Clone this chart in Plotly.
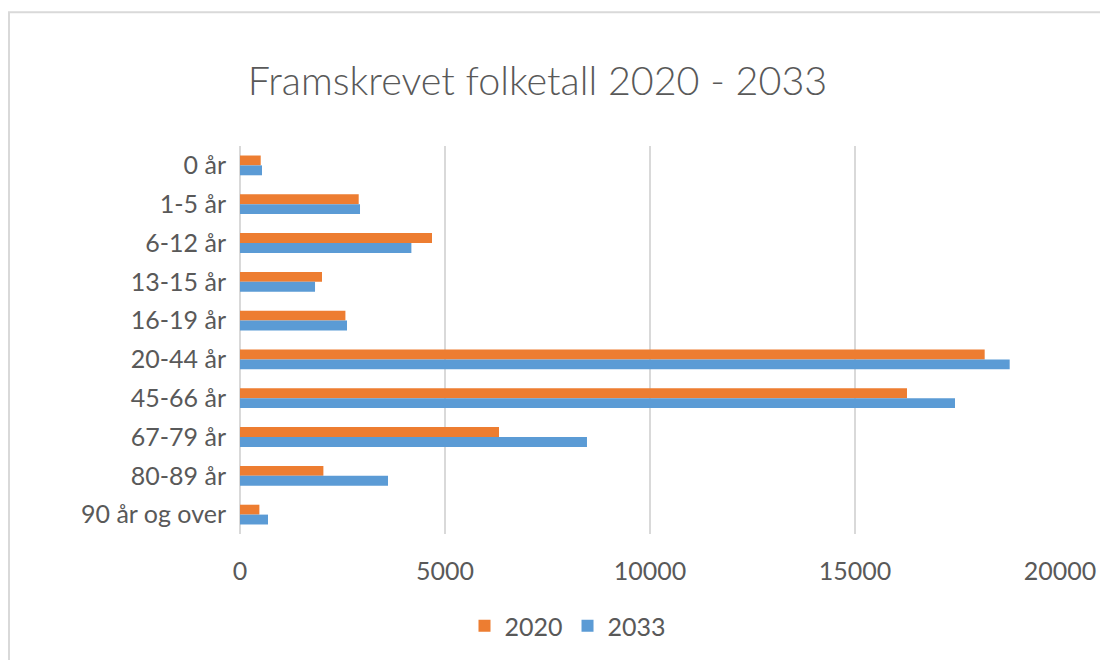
import plotly.graph_objects as go

categories = ["0 år", "1-5 år", "6-12 år", "13-15 år", "16-19 år", "20-44 år",
              "45-66 år", "67-79 år", "80-89 år", "90 år og over"]
values_2020 = [505, 2895, 4683, 2000, 2571, 18163, 16268, 6317, 2034, 473]
values_2033 = [537, 2927, 4180, 1830, 2610, 18773, 17439, 8463, 3610, 683]
tick_vals = [0, 5000, 10000, 15000, 20000]
tick_text = ["0", "5000", "10000", "15000", "20000"]

FONT = "Lato"
GRAY = "#595959"

# page body has an 8px margin; figure sized to fill the rest of the window
OFF = 8
W, H = 1108 - OFF, 660 - OFF
L, R, T, B = 240 - OFF, 48, 146 - OFF, 125
ph = H - T - B
pw = W - L - R

def px_to_paper_x(px):
    return (px - OFF - L) / pw

def px_to_paper_y(py):
    return (H - B - (py - OFF)) / ph

fig = go.Figure()
fig.add_trace(go.Bar(y=categories, x=values_2020, name="2020", orientation="h",
                     marker=dict(color="#ED7D31", line=dict(width=0))))
fig.add_trace(go.Bar(y=categories, x=values_2033, name="2033", orientation="h",
                     marker=dict(color="#5B9BD5", line=dict(width=0))))

fig.update_layout(
    width=W, height=H,
    margin=dict(l=L, r=R, t=T, b=B),
    paper_bgcolor="white", plot_bgcolor="white",
    barmode="group", bargap=0.49, bargroupgap=0,
    font=dict(family=FONT, color=GRAY, size=25),
    title=dict(text="Framskrevet folketall 2020 - 2033", x=(537.5 - OFF) / W, xanchor="center",
               y=1 - (81 - OFF) / H, yanchor="middle", yref="container",
               font=dict(family=FONT, size=39.5, color=GRAY, weight=300)),
    showlegend=True,
    legend=dict(orientation="h", x=px_to_paper_x(568), xanchor="center",
                y=px_to_paper_y(626), yanchor="middle",
                font=dict(family=FONT, size=25, color=GRAY), traceorder="normal"),
    xaxis=dict(range=[0, 20000], tickvals=tick_vals, ticktext=tick_text,
               showgrid=True, gridcolor="#d9d9d9", gridwidth=2,
               zeroline=True, zerolinecolor="#d9d9d9", zerolinewidth=2,
               showline=False, ticks="", ticklabelstandoff=20,
               tickfont=dict(family=FONT, size=25, color=GRAY)),
    yaxis=dict(autorange="reversed", showgrid=False, zeroline=False, showline=False,
               ticks="", ticklabelstandoff=13,
               tickfont=dict(family=FONT, size=25, color=GRAY)),
    shapes=[dict(type="rect", xref="paper", yref="paper",
                 x0=px_to_paper_x(OFF + 1), x1=px_to_paper_x(1300),
                 y0=px_to_paper_y(900), y1=px_to_paper_y(12),
                 line=dict(color="#d9d9d9", width=2), fillcolor="rgba(0,0,0,0)",
                 layer="below")],
)

fig.write_html("out.html")
